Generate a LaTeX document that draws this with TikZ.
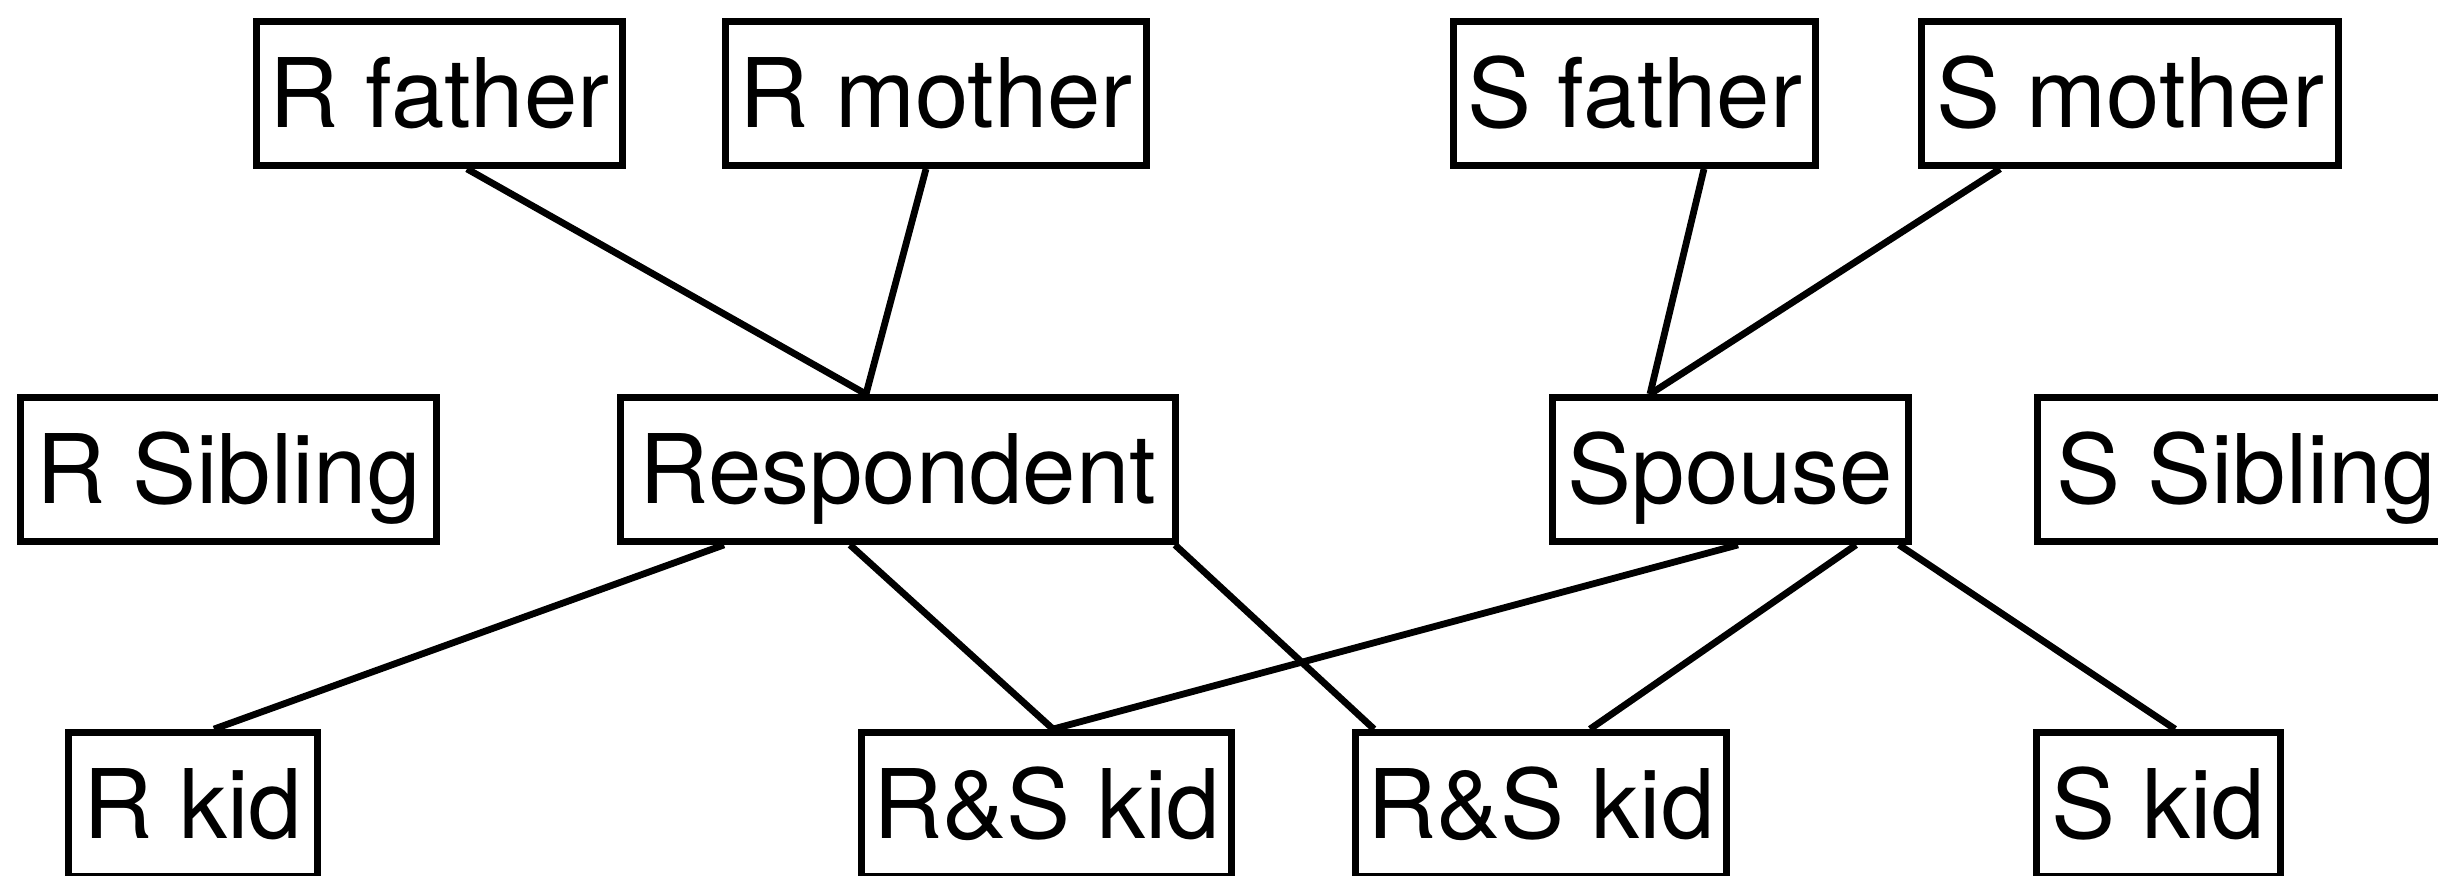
\documentclass[tikz,border=0pt]{standalone}
\usepackage{fontspec}
\setmainfont{TeX Gyre Heros}
\begin{document}
\begin{tikzpicture}[x=0.5pt,y=-0.5pt,
  box/.style={draw, line width=3.5pt, minimum height=71.9pt, inner sep=0pt,
    text height=34.5pt, text depth=0pt, font=\fontsize{48}{58}\selectfont},
  link/.style={line width=3.4pt}]
\useasboundingbox (0,0) rectangle (2438,876);
% top row
\node[box, minimum width=182.9pt] (rf) at (439.5,93.5) {R father};
\node[box, minimum width=210.4pt] (rm) at (936,93.5) {R mother};
\node[box, minimum width=180.9pt] (sf) at (1634.5,93.5) {S father};
\node[box, minimum width=208.4pt] (sm) at (2130,93.5) {S mother};
% middle row
\node[box, minimum width=207.9pt] (rsib) at (228.5,469.5) {R Sibling};
\node[box, minimum width=277.4pt] (resp) at (898,469.5) {Respondent};
\node[box, minimum width=177.9pt] (sp) at (1730.5,469.5) {Spouse};
\node[box, minimum width=209pt] (ssib) at (2246,469.5) {S Sibling};
% bottom row
\node[box, minimum width=124.4pt] (rkid) at (193,804.5) {R kid};
\node[box, minimum width=184.9pt] (rs1) at (1046.5,804.5) {R\&S kid};
\node[box, minimum width=185.4pt] (rs2) at (1541,804.5) {R\&S kid};
\node[box, minimum width=121.9pt] (skid) at (2158.5,804.5) {S kid};
% connectors
\draw[link] ([xshift=13.75pt]rf.south) -- ([xshift=-16pt]resp.north);
\draw[link] ([xshift=-5pt]rm.south) -- ([xshift=-16pt]resp.north);
\draw[link] ([xshift=34.75pt]sf.south) -- ([xshift=-40.25pt]sp.north);
\draw[link] ([xshift=-65pt]sm.south) -- ([xshift=-40.25pt]sp.north);
\draw[link] ([xshift=-87pt]resp.south) -- ([xshift=10.5pt]rkid.north);
\draw[link] ([xshift=-24pt]resp.south) -- ([xshift=3.25pt]rs1.north);
\draw[link] ([xshift=138.5pt]resp.south) -- ([xshift=-83.5pt]rs2.north);
\draw[link] ([xshift=3.75pt]sp.south) -- ([xshift=3.25pt]rs1.north);
\draw[link] ([xshift=62.75pt]sp.south) -- ([xshift=24.5pt]rs2.north);
\draw[link] ([xshift=84.25pt]sp.south) -- ([xshift=8.25pt]skid.north);
\end{tikzpicture}
\end{document}
